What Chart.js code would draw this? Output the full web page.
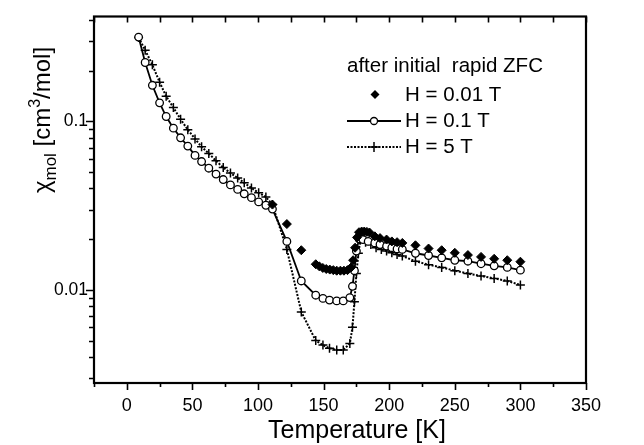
<!DOCTYPE html>
<html>
<head>
<meta charset="utf-8">
<script src="https://cdn.jsdelivr.net/npm/chart.js@4.4.0/dist/chart.umd.min.js"></script>
<style>
  html, body { margin: 0; padding: 0; background: #fff; }
</style>
</head>
<body>
<canvas id="chart" width="644" height="445"></canvas>
<script>
// susceptibility after initial rapid ZFC (T in K, chi in cm3/mol)
const temp001 = [111, 122, 133, 144, 146.7, 149.4, 152, 154.7, 157.4, 160, 162.8, 165.5, 168.2, 171,
  172.5, 174, 175.5, 177, 179, 181, 183, 185, 189, 193, 198, 202, 206, 210,
  220, 230, 240, 250, 260, 270, 280, 290, 300];
const chi001 = [0.0321, 0.0246, 0.0172, 0.0142, 0.0138, 0.0135, 0.0133, 0.0132, 0.0131, 0.0130, 0.0130, 0.0130, 0.0131, 0.0136,
  0.0150, 0.0178, 0.0205, 0.0220, 0.0222, 0.0222, 0.0221, 0.0219, 0.0208, 0.0203, 0.0199, 0.0194, 0.0192, 0.0190,
  0.0184, 0.0176, 0.0172, 0.0166, 0.0161, 0.0157, 0.0153, 0.0150, 0.0147];

const temp01 = [9, 14, 19.5, 25, 30, 35.5, 41, 46.5, 52, 57, 62.5, 68, 73.5, 79, 84.5, 89.5, 95, 100.5, 106, 111,
  122, 133, 144, 149.5, 154.5, 160, 165, 170, 172, 173.5, 175, 177, 180, 184, 189, 193, 198, 202, 206, 210,
  220, 230, 240, 250, 260, 270, 280, 290, 300];
const chi01 = [0.317, 0.224, 0.164, 0.129, 0.107, 0.0913, 0.080, 0.0714, 0.0629, 0.0578, 0.0528, 0.0487, 0.0452, 0.0420, 0.0395, 0.0372, 0.0353, 0.0333, 0.0318, 0.0302,
  0.0194, 0.0113, 0.0093, 0.0089, 0.0087, 0.0086, 0.0086, 0.0090, 0.0105, 0.0130, 0.0170, 0.0201, 0.0199, 0.0194, 0.0190, 0.0186, 0.0182, 0.0178, 0.0175, 0.0174,
  0.0165, 0.0160, 0.0155, 0.0150, 0.0148, 0.0143, 0.0139, 0.0136, 0.0131];

const temp5 = [9, 14, 19.5, 25, 30, 35.5, 41, 46.5, 52, 57, 62.5, 68, 73.5, 79, 84.5, 89.5, 95, 100.5, 106, 111,
  122, 133, 144, 149.5, 154.5, 160, 165, 170, 172, 173.5, 175, 176.5, 178, 182, 186, 190, 194, 198, 202, 206, 210,
  220, 230, 240, 250, 260, 270, 280, 290, 300];
const chi5 = [0.315, 0.265, 0.217, 0.171, 0.141, 0.121, 0.103, 0.0893, 0.0788, 0.0707, 0.0646, 0.0584, 0.0533, 0.0494, 0.0462, 0.0432, 0.0403, 0.0377, 0.0356, 0.0321,
  0.0174, 0.0074, 0.0050, 0.0047, 0.0045, 0.0044, 0.0044, 0.0048, 0.0060, 0.0085, 0.0125, 0.0165, 0.0198, 0.0192, 0.0186, 0.0178, 0.0174, 0.0170, 0.0166, 0.0162, 0.0159,
  0.0148, 0.0141, 0.0136, 0.0130, 0.0125, 0.0121, 0.0117, 0.0113, 0.0107];

const xTicks = [-25, 0, 25, 50, 75, 100, 125, 150, 175, 200, 225, 250, 275, 300, 325, 350];
const yTicks = [0.003, 0.004, 0.005, 0.006, 0.007, 0.008, 0.009, 0.01,
  0.02, 0.03, 0.04, 0.05, 0.06, 0.07, 0.08, 0.09, 0.1, 0.2, 0.3, 0.4];
const yLabels = [0.01, 0.1];

const FONT = '"Liberation Sans", Arial, sans-serif';
const toXY = (ts, vs) => ts.map((t, i) => ({ x: t, y: vs[i] }));

// frame plus in/out tick marks like the original plot
const frameTicks = {
  id: 'frameTicks',
  afterDraw(chart) {
    const { ctx, chartArea: a, scales: { x, y } } = chart;
    ctx.save();
    ctx.strokeStyle = '#000';
    ctx.lineWidth = 1.6;
    ctx.beginPath();
    xTicks.forEach(v => {
      const px = Math.round(x.getPixelForValue(v)) + 0.5;
      const len = v % 50 === 0 ? 7 : 4;
      ctx.moveTo(px, a.bottom); ctx.lineTo(px, a.bottom + len);
      ctx.moveTo(px, a.top); ctx.lineTo(px, a.top + 6);
    });
    yTicks.forEach(v => {
      const py = Math.round(y.getPixelForValue(v)) + 0.5;
      const len = yLabels.includes(v) ? 8 : 5;
      ctx.moveTo(a.left, py); ctx.lineTo(a.left - len, py);
    });
    ctx.stroke();
    ctx.lineWidth = 2.2;
    ctx.strokeRect(a.left, a.top, a.right - a.left, a.bottom - a.top);

    // axis titles
    ctx.fillStyle = '#000';
    ctx.font = '25px ' + FONT;
    ctx.textAlign = 'center';
    ctx.textBaseline = 'alphabetic';
    ctx.fillText('Temperature [K]', 357, 438);

    const parts = [
      { t: '\u03c7', size: 24, dy: 0 },
      { t: 'mol', size: 17, dy: 6 },
      { t: ' [cm', size: 24, dy: 0 },
      { t: '3', size: 16, dy: -10 },
      { t: '/mol]', size: 24, dy: 0 }
    ];
    let total = 0;
    parts.forEach(p => { ctx.font = p.size + 'px ' + FONT; p.w = ctx.measureText(p.t).width; total += p.w; });
    ctx.translate(50, 120);
    ctx.rotate(-Math.PI / 2);
    ctx.textAlign = 'left';
    let cx = -total / 2;
    parts.forEach(p => {
      ctx.font = p.size + 'px ' + FONT;
      ctx.fillText(p.t, cx, p.dy);
      cx += p.w;
    });
    ctx.restore();
  }
};

// legend block in the upper right
const legendBox = {
  id: 'legendBox',
  afterDraw(chart) {
    const { ctx } = chart;
    ctx.save();
    ctx.fillStyle = '#000';
    ctx.strokeStyle = '#000';
    ctx.font = '20.5px ' + FONT;
    ctx.textBaseline = 'middle';
    ctx.textAlign = 'left';
    ctx.fillText('after initial  rapid ZFC', 347, 66);

    // diamond
    ctx.beginPath();
    ctx.moveTo(375, 90); ctx.lineTo(379.5, 94.5); ctx.lineTo(375, 99); ctx.lineTo(370.5, 94.5);
    ctx.closePath(); ctx.fill();
    ctx.fillText('H = 0.01 T', 405, 95);

    // solid line + open circle
    ctx.lineWidth = 1.8;
    ctx.beginPath(); ctx.moveTo(347, 121); ctx.lineTo(401, 121); ctx.stroke();
    ctx.beginPath(); ctx.arc(374, 121, 3.5, 0, Math.PI * 2);
    ctx.fillStyle = '#fff'; ctx.fill(); ctx.lineWidth = 1.3; ctx.stroke();
    ctx.fillStyle = '#000';
    ctx.fillText('H = 0.1 T', 405, 121);

    // dotted line + cross
    ctx.lineWidth = 2;
    ctx.setLineDash([2, 1.5]);
    ctx.beginPath(); ctx.moveTo(347, 147); ctx.lineTo(401, 147); ctx.stroke();
    ctx.setLineDash([]);
    ctx.lineWidth = 1.5;
    ctx.beginPath();
    ctx.moveTo(369, 147); ctx.lineTo(379, 147);
    ctx.moveTo(374, 142); ctx.lineTo(374, 152);
    ctx.stroke();
    ctx.fillText('H = 5 T', 405, 147);
    ctx.restore();
  }
};

new Chart(document.getElementById('chart'), {
  type: 'scatter',
  data: {
    datasets: [
      {
        label: 'H = 0.01 T',
        data: toXY(temp001, chi001),
        showLine: false,
        pointStyle: 'rectRot',
        pointRadius: 4.5,
        backgroundColor: '#000',
        borderColor: '#000',
        borderWidth: 1
      },
      {
        label: 'H = 0.1 T',
        data: toXY(temp01, chi01),
        showLine: true,
        borderColor: '#000',
        borderWidth: 1.8,
        pointStyle: 'circle',
        pointRadius: 3.8,
        pointBackgroundColor: '#fff',
        pointBorderColor: '#000',
        pointBorderWidth: 1.3
      },
      {
        label: 'H = 5 T',
        data: toXY(temp5, chi5),
        showLine: true,
        borderColor: '#000',
        borderWidth: 2,
        borderDash: [2, 1.5],
        pointStyle: 'cross',
        pointRadius: 4.5,
        pointBorderColor: '#000',
        pointBorderWidth: 1.5
      }
    ]
  },
  options: {
    responsive: false,
    animation: false,
    devicePixelRatio: 1,
    layout: { padding: { top: 12, right: 58, left: 0, bottom: 0 } },
    plugins: {
      legend: { display: false },
      tooltip: { enabled: false }
    },
    scales: {
      x: {
        type: 'linear',
        min: -25,
        max: 350,
        afterFit: s => { s.height = 62; },
        afterBuildTicks: s => { s.ticks = xTicks.map(v => ({ value: v })); },
        grid: { display: false, drawTicks: false },
        border: { display: false },
        ticks: {
          autoSkip: false,
          maxRotation: 0,
          padding: 12,
          color: '#000',
          font: { family: FONT, size: 18 },
          callback: v => (v % 50 === 0 ? String(v) : '')
        }
      },
      y: {
        type: 'logarithmic',
        min: 0.0028,
        max: 0.42,
        afterFit: s => { s.width = 94; },
        afterBuildTicks: s => { s.ticks = yTicks.map(v => ({ value: v })); },
        grid: { display: false, drawTicks: false },
        border: { display: false },
        ticks: {
          autoSkip: false,
          padding: 6,
          color: '#000',
          font: { family: FONT, size: 17.5 },
          callback: v => (yLabels.includes(v) ? String(v) : '')
        }
      }
    }
  },
  plugins: [frameTicks, legendBox]
});
</script>
</body>
</html>
